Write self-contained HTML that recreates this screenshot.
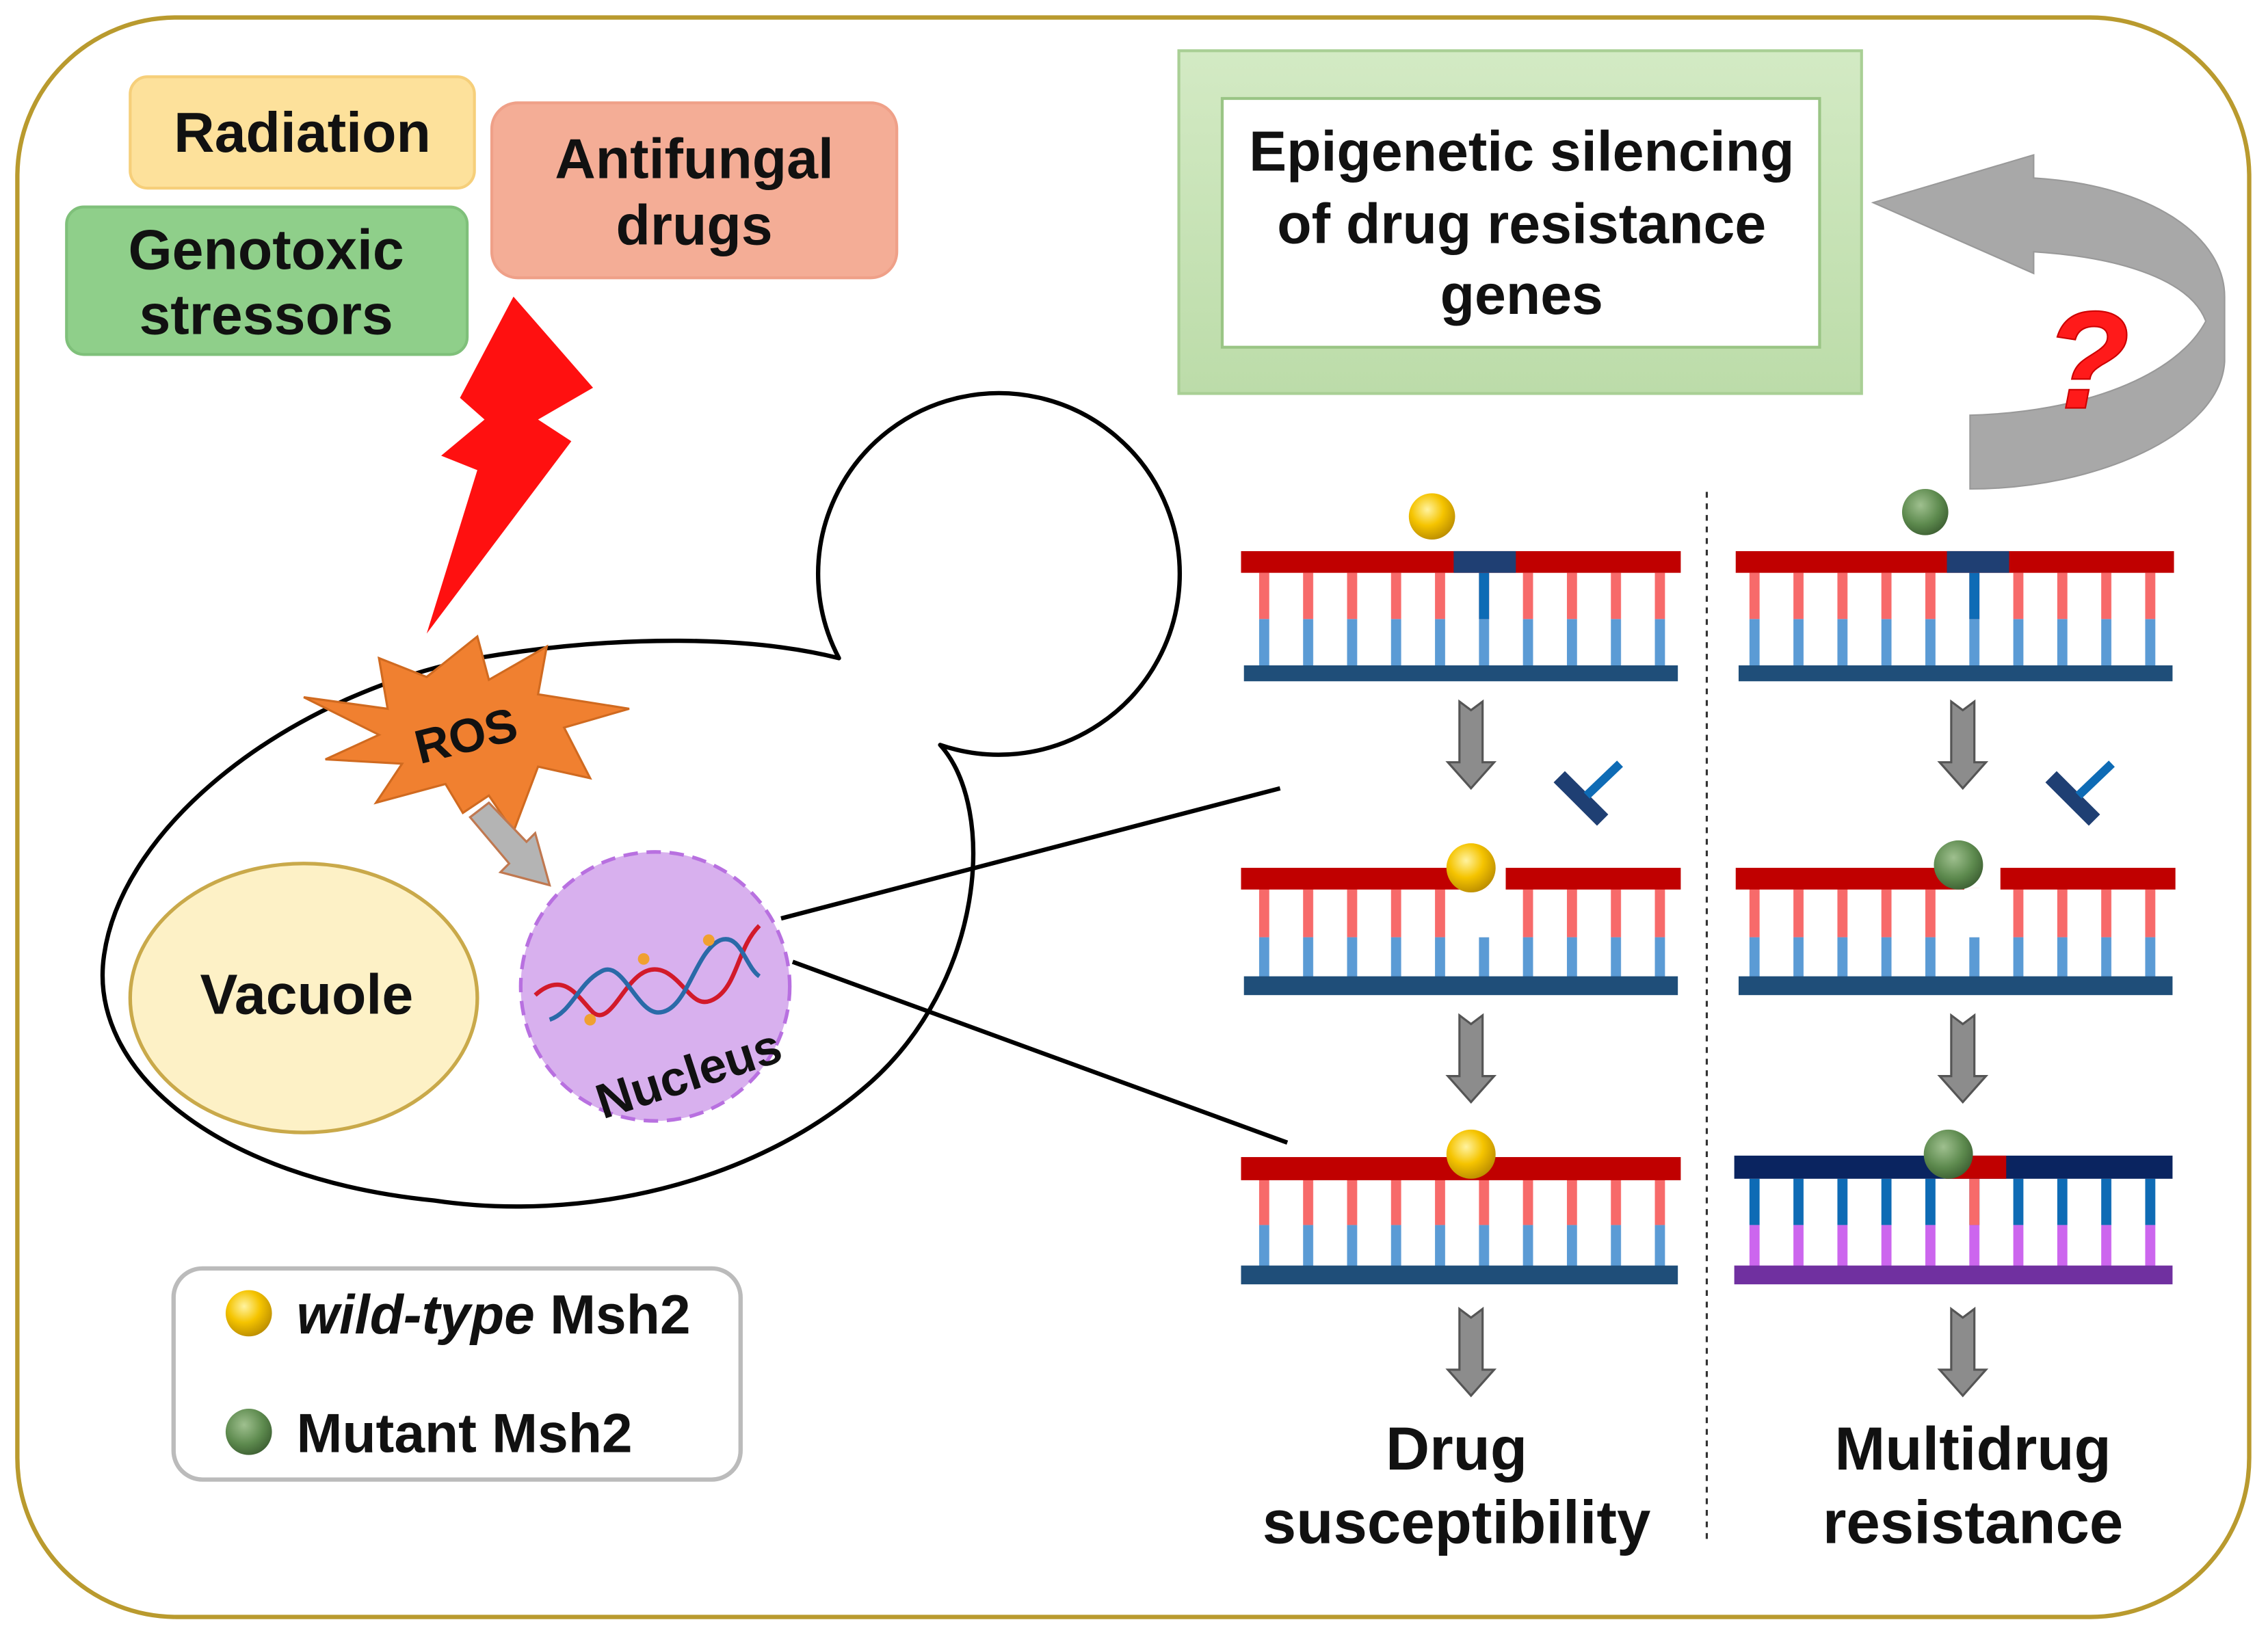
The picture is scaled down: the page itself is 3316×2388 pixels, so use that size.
<!DOCTYPE html>
<html><head><meta charset="utf-8"><style>
html,body{margin:0;padding:0;background:#fff;}
svg{display:block;}
text{font-family:"Liberation Sans",Arial,sans-serif;font-weight:bold;fill:#111;}
</style></head><body>
<svg width="3316" height="2388" viewBox="0 0 1568 1129" xmlns="http://www.w3.org/2000/svg">
<defs>
<pattern id="rungs" x="870.5" y="0" width="30.4" height="2000" patternUnits="userSpaceOnUse">
<rect x="0" y="0" width="7" height="2000" fill="#f76a6a"/>
</pattern>
<pattern id="rungsB" x="870.5" y="0" width="30.4" height="2000" patternUnits="userSpaceOnUse">
<rect x="0" y="0" width="7" height="2000" fill="#5b9bd5"/>
</pattern>
<pattern id="rungsR" x="1209.5" y="0" width="30.4" height="2000" patternUnits="userSpaceOnUse">
<rect x="0" y="0" width="7" height="2000" fill="#f76a6a"/>
</pattern>
<pattern id="rungsRB" x="1209.5" y="0" width="30.4" height="2000" patternUnits="userSpaceOnUse">
<rect x="0" y="0" width="7" height="2000" fill="#5b9bd5"/>
</pattern>
<pattern id="rungsN" x="1209.5" y="0" width="30.4" height="2000" patternUnits="userSpaceOnUse">
<rect x="0" y="0" width="7" height="2000" fill="#0e6bb5"/>
</pattern>
<pattern id="rungsP" x="1209.5" y="0" width="30.4" height="2000" patternUnits="userSpaceOnUse">
<rect x="0" y="0" width="7" height="2000" fill="#cc66ee"/>
</pattern>
<radialGradient id="gold" cx="0.4" cy="0.35" r="0.7"><stop offset="0" stop-color="#fff3a0"/><stop offset="0.5" stop-color="#f5c400"/><stop offset="1" stop-color="#b88a00"/></radialGradient>
<radialGradient id="grn" cx="0.4" cy="0.35" r="0.7"><stop offset="0" stop-color="#9fc08f"/><stop offset="0.6" stop-color="#5d8a4e"/><stop offset="1" stop-color="#3c5e32"/></radialGradient>
<linearGradient id="frame" x1="0" y1="0" x2="0" y2="1"><stop offset="0" stop-color="#d3eac4"/><stop offset="1" stop-color="#bcdca9"/></linearGradient>
<g id="darrow"><path d="M-8,0 L0,6 L8,0 L8,42 L16,42 L0,60 L-16,42 L-8,42 Z" fill="#8c8c8c" stroke="#555" stroke-width="1.5"/></g>
<g id="hammer"><line x1="-22" y1="-8" x2="8" y2="22" stroke="#1f3f73" stroke-width="11"/><line x1="-3" y1="5" x2="20" y2="-17" stroke="#0e6bb5" stroke-width="6"/></g>
</defs>

<rect x="12" y="12" width="1543" height="1106" rx="110" ry="110" fill="#fff" stroke="#b99a2e" stroke-width="3"/>

<rect x="90" y="53" width="238" height="77" rx="12" fill="#fde19b" stroke="#f6cf7a" stroke-width="2"/>
<text x="209" y="105" font-size="39" text-anchor="middle">Radiation</text>
<rect x="46" y="143" width="277" height="102" rx="12" fill="#8fcf8a" stroke="#7fc07a" stroke-width="2"/>
<text x="184" y="186" font-size="39" text-anchor="middle">Genotoxic</text>
<text x="184" y="231" font-size="39" text-anchor="middle">stressors</text>
<rect x="340" y="71" width="280" height="121" rx="18" fill="#f4ad96" stroke="#efa088" stroke-width="2"/>
<text x="480" y="123" font-size="39" text-anchor="middle">Antifungal</text>
<text x="480" y="169" font-size="39" text-anchor="middle">drugs</text>

<path d="M355,205 L410,268 L372,290 L395,305 L295,438 L330,325 L305,315 L335,290 L318,275 Z" fill="#ff1010"/>

<!-- cell -->
<path d="M650,515 C690,560 680,680 600,750 C520,820 400,845 300,830 C150,815 60,740 72,660 C85,570 200,480 330,455 C430,438 520,440 580,455 A125 125 0 1 1 650,515 Z" fill="#fff" stroke="#000" stroke-width="3" stroke-linejoin="round"/>

<ellipse cx="210" cy="690" rx="120" ry="93" fill="#fdf1c6" stroke="#c9a94a" stroke-width="2.5"/>
<text x="212" y="701" font-size="39" text-anchor="middle">Vacuole</text>

<path d="M210,482 L268,490 L262,455 L295,468 L330,440 L338,470 L378,447 L372,480 L435,490 L390,503 L408,538 L372,530 L355,575 L338,550 L320,562 L308,542 L260,555 L278,528 L225,525 L262,508 Z" fill="#f08030" stroke="#d06a20" stroke-width="1.5"/>
<text x="322" y="520" font-size="33" text-anchor="middle" transform="rotate(-14 322 508)">ROS</text>
<path d="M325,565 L338,555 L364,582 L370,576 L380,612 L346,603 L352,597 Z" fill="#b4b4b4" stroke="#c07850" stroke-width="1.5"/>

<circle cx="453" cy="682" r="93" fill="#d8b0ee" stroke="#b870e0" stroke-width="2.5" stroke-dasharray="10,6"/>
<path d="M370,688 C390,670 400,690 410,700 C425,712 435,660 460,672 C475,680 480,700 495,690 C510,680 510,655 525,640" fill="none" stroke="#d21a2a" stroke-width="3"/>
<path d="M380,705 C395,700 400,680 415,672 C430,662 440,700 455,700 C475,700 480,658 498,650 C512,645 515,668 525,675" fill="none" stroke="#2a6aa8" stroke-width="3"/>
<circle cx="408" cy="705" r="4" fill="#f0a030"/><circle cx="445" cy="663" r="4" fill="#f0a030"/><circle cx="490" cy="650" r="4" fill="#f0a030"/>
<text x="476" y="754" font-size="34" text-anchor="middle" transform="rotate(-18 476 742)">Nucleus</text>

<line x1="540" y1="635" x2="885" y2="545" stroke="#000" stroke-width="3"/>
<line x1="548" y1="665" x2="890" y2="790" stroke="#000" stroke-width="3"/>

<rect x="120" y="877" width="392" height="146" rx="20" fill="#fff" stroke="#bbb" stroke-width="3"/>
<circle cx="172" cy="908" r="16" fill="url(#gold)"/>
<text x="205" y="922" font-size="38"><tspan font-style="italic">wild-type</tspan> Msh2</text>
<circle cx="172" cy="990" r="16" fill="url(#grn)"/>
<text x="205" y="1004" font-size="38">Mutant Msh2</text>

<rect x="815" y="35" width="472" height="237" fill="url(#frame)" stroke="#a9cf95" stroke-width="2"/>
<rect x="845" y="68" width="413" height="172" fill="#fff" stroke="#9ac585" stroke-width="2"/>
<text x="1052" y="118" font-size="39" text-anchor="middle">Epigenetic silencing</text>
<text x="1052" y="168" font-size="39" text-anchor="middle">of drug resistance</text>
<text x="1052" y="217" font-size="39" text-anchor="middle">genes</text>

<path d="M1362,287 C1440,285 1505,260 1525,222 C1515,195 1470,178 1406,174 L1406,189 L1295,140 L1406,107 L1406,123 C1490,128 1538,165 1538,205 L1538,250 C1535,300 1450,338 1362,338 Z" fill="#a8a8a8" stroke="#999" stroke-width="1"/>
<text x="1443" y="282" font-size="96" font-style="italic" text-anchor="middle" style="fill:#ff1a1a;" stroke="#c00" stroke-width="1">?</text>

<line x1="1180" y1="340" x2="1180" y2="1065" stroke="#333" stroke-width="1.5" stroke-dasharray="4,4"/>

<!-- L1 -->
<rect x="865" y="396" width="290" height="32" fill="url(#rungs)"/>
<rect x="865" y="428" width="290" height="33" fill="url(#rungsB)"/>
<rect x="1022.5" y="396" width="7" height="32" fill="#0e6bb5"/>
<rect x="858" y="381" width="304" height="15" fill="#c00000"/>
<rect x="1005" y="381" width="43" height="15" fill="#1f3f73"/>
<rect x="860" y="460" width="300" height="11" fill="#1f4e79"/>
<circle cx="990" cy="357" r="16" fill="url(#gold)"/>
<use href="#darrow" x="1017" y="485"/>
<use href="#hammer" x="1100" y="545"/>
<!-- L2 -->
<rect x="865" y="614" width="290" height="34" fill="url(#rungs)"/>
<rect x="865" y="648" width="290" height="28" fill="url(#rungsB)"/>
<rect x="1020" y="614" width="12" height="34" fill="#fff"/>
<rect x="858" y="600" width="160" height="15" fill="#c00000"/>
<rect x="1041" y="600" width="121" height="15" fill="#c00000"/>
<rect x="860" y="675" width="300" height="13" fill="#1f4e79"/>
<circle cx="1017" cy="600" r="17" fill="url(#gold)"/>
<use href="#darrow" x="1017" y="702"/>
<!-- L3 -->
<rect x="865" y="815" width="290" height="32" fill="url(#rungs)"/>
<rect x="865" y="847" width="290" height="30" fill="url(#rungsB)"/>
<rect x="858" y="800" width="304" height="16" fill="#c00000"/>
<rect x="858" y="875" width="302" height="13" fill="#1f4e79"/>
<circle cx="1017" cy="798" r="17" fill="url(#gold)"/>
<use href="#darrow" x="1017" y="905"/>
<text x="1007" y="1016" font-size="42" text-anchor="middle">Drug</text>
<text x="1007" y="1067" font-size="42" text-anchor="middle">susceptibility</text>

<!-- R1 -->
<rect x="1204" y="396" width="290" height="32" fill="url(#rungsR)"/>
<rect x="1204" y="428" width="290" height="33" fill="url(#rungsRB)"/>
<rect x="1361.5" y="396" width="7" height="32" fill="#0e6bb5"/>
<rect x="1200" y="381" width="303" height="15" fill="#c00000"/>
<rect x="1346" y="381" width="43" height="15" fill="#1f3f73"/>
<rect x="1202" y="460" width="300" height="11" fill="#1f4e79"/>
<circle cx="1331" cy="354" r="16" fill="url(#grn)"/>
<use href="#darrow" x="1357" y="485"/>
<use href="#hammer" x="1440" y="545"/>
<!-- R2 -->
<rect x="1204" y="614" width="290" height="34" fill="url(#rungsR)"/>
<rect x="1204" y="648" width="290" height="28" fill="url(#rungsRB)"/>
<rect x="1359" y="614" width="12" height="34" fill="#fff"/>
<rect x="1200" y="600" width="158" height="15" fill="#c00000"/>
<rect x="1383" y="600" width="121" height="15" fill="#c00000"/>
<rect x="1202" y="675" width="300" height="13" fill="#1f4e79"/>
<circle cx="1354" cy="598" r="17" fill="url(#grn)"/>
<use href="#darrow" x="1357" y="702"/>
<!-- R3 -->
<rect x="1204" y="815" width="290" height="32" fill="url(#rungsN)"/>
<rect x="1204" y="847" width="290" height="30" fill="url(#rungsP)"/>
<rect x="1361.5" y="815" width="7" height="32" fill="#f76a6a"/>
<rect x="1199" y="799" width="303" height="16" fill="#0a2460"/>
<rect x="1345" y="799" width="42" height="16" fill="#c00000"/>
<rect x="1199" y="875" width="303" height="13" fill="#7030a0"/>
<circle cx="1347" cy="798" r="17" fill="url(#grn)"/>
<use href="#darrow" x="1357" y="905"/>
<text x="1364" y="1016" font-size="42" text-anchor="middle">Multidrug</text>
<text x="1364" y="1067" font-size="42" text-anchor="middle">resistance</text>
</svg>
</body></html>
